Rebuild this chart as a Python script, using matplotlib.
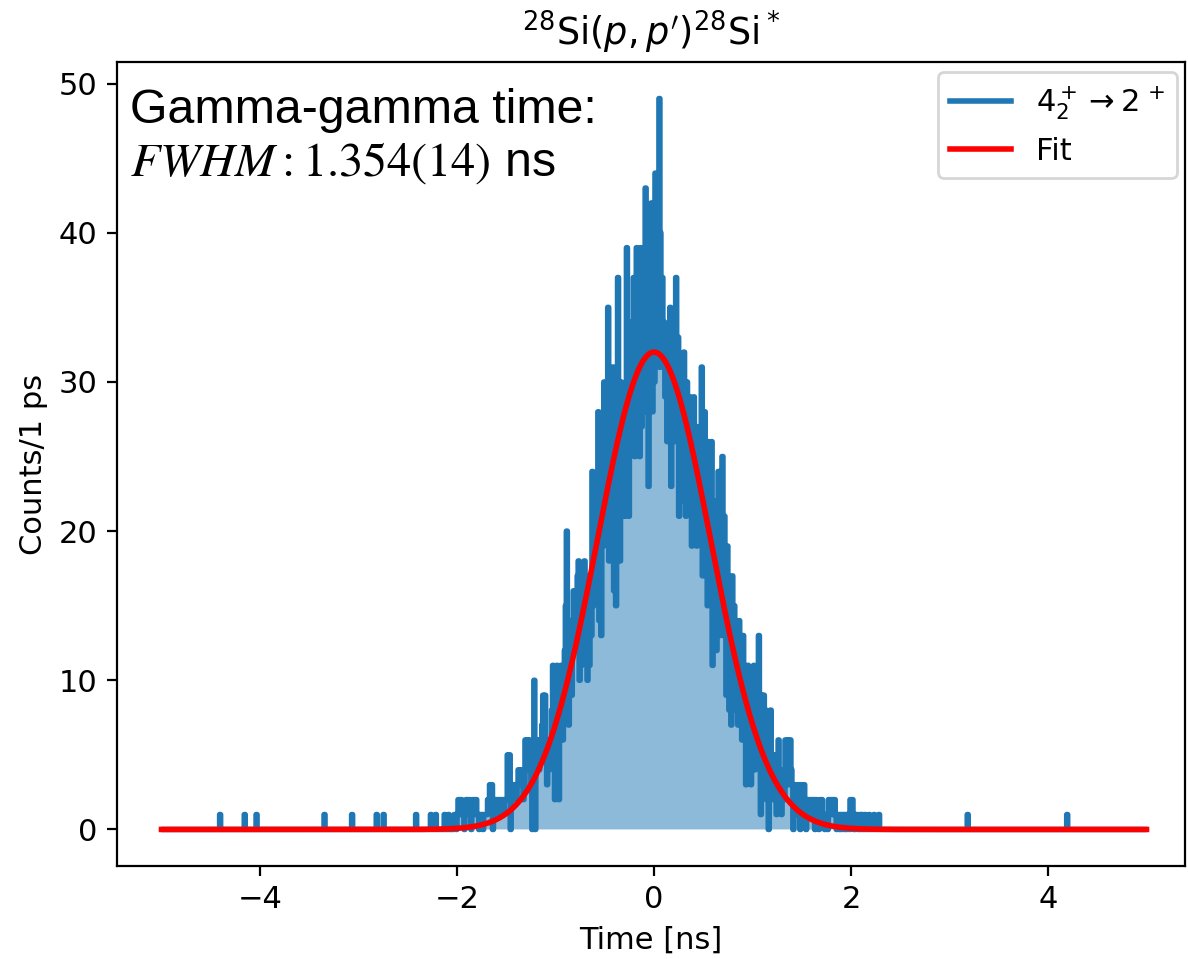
import numpy as np
import matplotlib
matplotlib.use("Agg")
import matplotlib.pyplot as plt

# ---------------- data ----------------
bin_width = 0.01            # ns
hist_range = (-5.0, 5.0)    # ns
core_start = -2.30          # ns, first bin of the dense region
core_counts = [
    0, 0, 0, 1, 0, 0, 0, 0, 1, 0,
    0, 0, 0, 0, 0, 0, 0, 1, 0, 0,
    0, 1, 0, 0, 0, 0, 0, 1, 1, 0,
    1, 2, 2, 1, 2, 1, 1, 0, 1, 2,
    2, 1, 2, 1, 0, 1, 2, 2, 1, 2,
    1, 1, 0, 1, 1, 1, 0, 1, 1, 1,
    1, 2, 2, 3, 2, 3, 0, 1, 2, 2,
    2, 1, 2, 2, 1, 2, 2, 1, 2, 2,
    2, 5, 3, 5, 0, 2, 3, 2, 3, 3,
    2, 3, 4, 3, 4, 4, 3, 2, 3, 6,
    5, 6, 4, 6, 5, 3, 0, 3, 10, 0,
    6, 5, 6, 4, 6, 5, 7, 9, 8, 9,
    5, 3, 6, 4, 5, 6, 8, 11, 9, 2,
    7, 11, 10, 2, 9, 11, 8, 6, 9, 12,
    15, 20, 12, 7, 10, 14, 9, 12, 16, 13,
    16, 12, 17, 18, 10, 15, 11, 16, 13, 18,
    12, 17, 10, 14, 11, 16, 13, 24, 15, 20,
    18, 23, 16, 28, 14, 22, 13, 24, 19, 30,
    22, 27, 21, 35, 18, 29, 24, 19, 31, 16,
    26, 15, 29, 37, 22, 18, 30, 25, 21, 23,
    21, 27, 39, 24, 21, 31, 34, 27, 30, 37,
    25, 32, 39, 28, 35, 25, 39, 27, 33, 29,
    36, 43, 28, 38, 23, 41, 30, 42, 28, 35,
    30, 44, 32, 38, 31, 49, 40, 31, 37, 33,
    34, 29, 33, 26, 31, 28, 35, 23, 30, 33,
    26, 31, 37, 27, 33, 21, 28, 24, 31, 22,
    32, 25, 21, 30, 26, 22, 29, 24, 19, 27,
    29, 22, 26, 19, 27, 21, 24, 20, 31, 17,
    25, 28, 18, 22, 15, 26, 20, 16, 26, 11,
    19, 14, 22, 12, 18, 24, 13, 20, 16, 25,
    13, 21, 17, 9, 19, 12, 8, 16, 7, 17,
    11, 15, 8, 13, 10, 7, 14, 9, 12, 6,
    13, 9, 11, 3, 8, 11, 5, 9, 3, 10,
    7, 11, 4, 10, 6, 11, 13, 5, 1, 9,
    6, 9, 4, 8, 2, 7, 0, 5, 8, 3,
    5, 2, 4, 5, 1, 3, 6, 2, 4, 1,
    3, 4, 2, 6, 3, 5, 6, 3, 6, 4,
    3, 0, 2, 3, 1, 3, 2, 3, 0, 2,
    3, 1, 3, 2, 0, 2, 1, 2, 2, 1,
    2, 1, 2, 0, 2, 1, 1, 0, 2, 1,
    2, 1, 1, 0, 1, 1, 0, 2, 1, 2,
    1, 2, 1, 2, 1, 0, 1, 1, 0, 1,
    0, 1, 1, 0, 1, 0, 1, 1, 0, 2,
    1, 2, 0, 1, 0, 1, 1, 0, 0, 1,
    0, 1, 0, 0, 1, 0, 0, 0, 1, 0,
    0, 0, 0, 1, 0, 0, 0, 0, 1, 0,
]
# isolated single counts in the tails (ns)
tail_events = [-4.40, -4.15, -4.03, -3.35, -3.07, -2.82, -2.74, -2.42, 3.18, 4.20]

# fit parameters
fit_amplitude = 32.0
fit_mean = 0.0
fit_fwhm = 1.354

title = r"$^{28}$Si$(p,p')^{28}$Si$^*$"
series_label = r"$4_2^+ \rightarrow 2^{\,+}$"
fit_label = "Fit"
xlabel = "Time [ns]"
ylabel = "Counts/1 ps"
xticks = [-4, -2, 0, 2, 4]
yticks = [0, 10, 20, 30, 40, 50]

# ---------------- build histogram ----------------
nbins = int(round((hist_range[1] - hist_range[0]) / bin_width))
edges = np.linspace(hist_range[0], hist_range[1], nbins + 1)
counts = np.zeros(nbins)
i0 = int(round((core_start - hist_range[0]) / bin_width))
counts[i0:i0 + len(core_counts)] = core_counts
for t in tail_events:
    counts[int(np.floor((t - hist_range[0]) / bin_width))] += 1

sigma = fit_fwhm / (2 * np.sqrt(2 * np.log(2)))
x_fit = np.linspace(hist_range[0], hist_range[1], 2000)
y_fit = fit_amplitude * np.exp(-0.5 * ((x_fit - fit_mean) / sigma) ** 2)

# ---------------- plot ----------------
plt.rcParams["font.size"] = 11
W, H = 1188, 959
fig = plt.figure(figsize=(W / 200, H / 200), dpi=200)
ax = fig.add_axes([117 / W, 1 - 866 / H, (1185 - 117) / W, (866 - 62) / H])

ax.stairs(counts, edges, fill=True, color="#1f77b4", alpha=0.5, lw=0)
ax.stairs(counts, edges, color="#1f77b4", lw=2, joinstyle="round",
          capstyle="round", label=series_label)
ax.plot(x_fit, y_fit, color="red", lw=2, label=fit_label)

ax.set_xlim(-5.452, 5.391)
ax.set_ylim(-2.45, 51.45)
ax.set_xticks(xticks)
ax.set_yticks(yticks)
ax.set_title(title, fontsize=13.2)
ax.set_xlabel(xlabel)
ax.set_ylabel(ylabel)

ax.text(0.012, 0.968, "Gamma-gamma time:\n$FWHM: 1.354(14)$ ns",
        transform=ax.transAxes, ha="left", va="top", fontsize=17.4,
        family="Liberation Sans", math_fontfamily="stix")

ax.legend(loc="upper right", bbox_to_anchor=(0.9925, 0.9876), borderaxespad=0)

fig.savefig("out.png", dpi=200)
